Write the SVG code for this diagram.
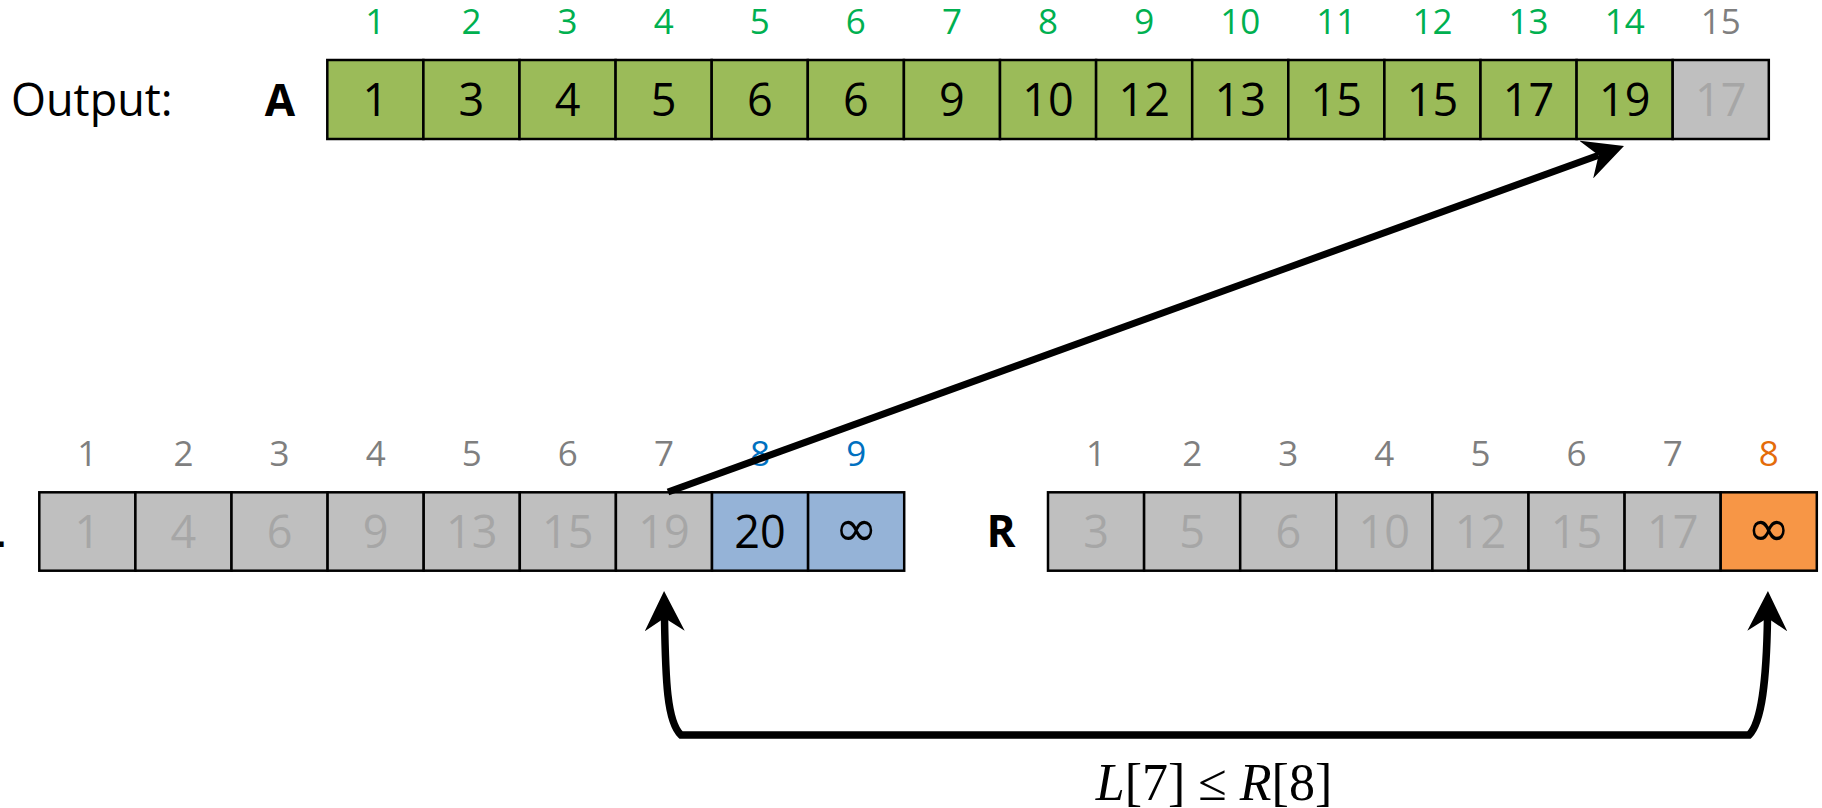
<svg xmlns="http://www.w3.org/2000/svg" width="1822" height="808" viewBox="0 0 1822 808">
<style>
rect{stroke:#000;stroke-width:2.5}
.g{fill:#9BBB59}.gr{fill:#BFBFBF}.b{fill:#95B3D7}.o{fill:#F79646}
text{font-family:"Open Sans","Liberation Sans",sans-serif;text-anchor:middle}
.v{font-size:45px;fill:#000}.f{font-size:45px;fill:#A6A6A6}
.i{font-size:35px}.ig{fill:#00B050}.ix{fill:#7F7F7F}.ib{fill:#0070C0}.io{fill:#E46C0A}
.lb{font-size:44px;font-weight:bold;fill:#000}
.inf{font-family:"DejaVu Sans",sans-serif;font-size:52px;fill:#000}
.con{fill:none;stroke:#000}
</style>
<defs>
<marker id="ah" markerUnits="userSpaceOnUse" viewBox="0 0 40 40" markerWidth="40" markerHeight="40" refX="13" refY="20" orient="auto-start-reverse">
<path d="M0 0L40 20L0 40L13 20Z" fill="#000"/>
</marker>
</defs>
<g id="labels">
<text x="11" y="116" style="text-anchor:start;font-size:45px;fill:#000">Output:</text>
<text x="280" y="116" class="lb">A</text>
<text x="5" y="547" class="lb" style="text-anchor:end">L</text>
<text x="1001" y="547" class="lb">R</text>
</g>
<g id="arrayA">
<g id="A1"><rect class="g" x="327.3" y="60" width="96.1" height="79"/><text class="v" x="375.35" y="116">1</text><text class="i ig" x="375.35" y="34">1</text></g>
<g id="A2"><rect class="g" x="423.4" y="60" width="96.1" height="79"/><text class="v" x="471.45" y="116">3</text><text class="i ig" x="471.45" y="34">2</text></g>
<g id="A3"><rect class="g" x="519.5" y="60" width="96.1" height="79"/><text class="v" x="567.55" y="116">4</text><text class="i ig" x="567.55" y="34">3</text></g>
<g id="A4"><rect class="g" x="615.6" y="60" width="96.1" height="79"/><text class="v" x="663.65" y="116">5</text><text class="i ig" x="663.65" y="34">4</text></g>
<g id="A5"><rect class="g" x="711.7" y="60" width="96.1" height="79"/><text class="v" x="759.75" y="116">6</text><text class="i ig" x="759.75" y="34">5</text></g>
<g id="A6"><rect class="g" x="807.8" y="60" width="96.1" height="79"/><text class="v" x="855.85" y="116">6</text><text class="i ig" x="855.85" y="34">6</text></g>
<g id="A7"><rect class="g" x="903.9" y="60" width="96.1" height="79"/><text class="v" x="951.95" y="116">9</text><text class="i ig" x="951.95" y="34">7</text></g>
<g id="A8"><rect class="g" x="1000" y="60" width="96.1" height="79"/><text class="v" x="1048.05" y="116">10</text><text class="i ig" x="1048.05" y="34">8</text></g>
<g id="A9"><rect class="g" x="1096.1" y="60" width="96.1" height="79"/><text class="v" x="1144.15" y="116">12</text><text class="i ig" x="1144.15" y="34">9</text></g>
<g id="A10"><rect class="g" x="1192.2" y="60" width="96.1" height="79"/><text class="v" x="1240.25" y="116">13</text><text class="i ig" x="1240.25" y="34">10</text></g>
<g id="A11"><rect class="g" x="1288.3" y="60" width="96.1" height="79"/><text class="v" x="1336.35" y="116">15</text><text class="i ig" x="1336.35" y="34">11</text></g>
<g id="A12"><rect class="g" x="1384.4" y="60" width="96.1" height="79"/><text class="v" x="1432.45" y="116">15</text><text class="i ig" x="1432.45" y="34">12</text></g>
<g id="A13"><rect class="g" x="1480.5" y="60" width="96.1" height="79"/><text class="v" x="1528.55" y="116">17</text><text class="i ig" x="1528.55" y="34">13</text></g>
<g id="A14"><rect class="g" x="1576.6" y="60" width="96.1" height="79"/><text class="v" x="1624.65" y="116">19</text><text class="i ig" x="1624.65" y="34">14</text></g>
<g id="A15"><rect class="gr" x="1672.7" y="60" width="96.1" height="79"/><text class="f" x="1720.75" y="116">17</text><text class="i ix" x="1720.75" y="34">15</text></g>
</g>
<g id="arrayL">
<g id="L1"><rect class="gr" x="39.3" y="492.3" width="96.1" height="78.4"/><text class="f" x="87.35" y="548">1</text><text class="i ix" x="87.35" y="466">1</text></g>
<g id="L2"><rect class="gr" x="135.4" y="492.3" width="96.1" height="78.4"/><text class="f" x="183.45" y="548">4</text><text class="i ix" x="183.45" y="466">2</text></g>
<g id="L3"><rect class="gr" x="231.5" y="492.3" width="96.1" height="78.4"/><text class="f" x="279.55" y="548">6</text><text class="i ix" x="279.55" y="466">3</text></g>
<g id="L4"><rect class="gr" x="327.6" y="492.3" width="96.1" height="78.4"/><text class="f" x="375.65" y="548">9</text><text class="i ix" x="375.65" y="466">4</text></g>
<g id="L5"><rect class="gr" x="423.7" y="492.3" width="96.1" height="78.4"/><text class="f" x="471.75" y="548">13</text><text class="i ix" x="471.75" y="466">5</text></g>
<g id="L6"><rect class="gr" x="519.8" y="492.3" width="96.1" height="78.4"/><text class="f" x="567.85" y="548">15</text><text class="i ix" x="567.85" y="466">6</text></g>
<g id="L7"><rect class="gr" x="615.9" y="492.3" width="96.1" height="78.4"/><text class="f" x="663.95" y="548">19</text><text class="i ix" x="663.95" y="466">7</text></g>
<g id="L8"><rect class="b" x="712" y="492.3" width="96.1" height="78.4"/><text class="v" x="760.05" y="548">20</text><text class="i ib" x="760.05" y="466">8</text></g>
<g id="L9"><rect class="b" x="808.1" y="492.3" width="96.1" height="78.4"/><text class="inf" x="856.15" y="546">∞</text><text class="i ib" x="856.15" y="466">9</text></g>
</g>
<g id="arrayR">
<g id="R1"><rect class="gr" x="1048" y="492.3" width="96.1" height="78.4"/><text class="f" x="1096.05" y="548">3</text><text class="i ix" x="1096.05" y="466">1</text></g>
<g id="R2"><rect class="gr" x="1144.1" y="492.3" width="96.1" height="78.4"/><text class="f" x="1192.15" y="548">5</text><text class="i ix" x="1192.15" y="466">2</text></g>
<g id="R3"><rect class="gr" x="1240.2" y="492.3" width="96.1" height="78.4"/><text class="f" x="1288.25" y="548">6</text><text class="i ix" x="1288.25" y="466">3</text></g>
<g id="R4"><rect class="gr" x="1336.3" y="492.3" width="96.1" height="78.4"/><text class="f" x="1384.35" y="548">10</text><text class="i ix" x="1384.35" y="466">4</text></g>
<g id="R5"><rect class="gr" x="1432.4" y="492.3" width="96.1" height="78.4"/><text class="f" x="1480.45" y="548">12</text><text class="i ix" x="1480.45" y="466">5</text></g>
<g id="R6"><rect class="gr" x="1528.5" y="492.3" width="96.1" height="78.4"/><text class="f" x="1576.55" y="548">15</text><text class="i ix" x="1576.55" y="466">6</text></g>
<g id="R7"><rect class="gr" x="1624.6" y="492.3" width="96.1" height="78.4"/><text class="f" x="1672.65" y="548">17</text><text class="i ix" x="1672.65" y="466">7</text></g>
<g id="R8"><rect class="o" x="1720.7" y="492.3" width="96.1" height="78.4"/><text class="inf" x="1768.75" y="546">∞</text><text class="i io" x="1768.75" y="466">8</text></g>
</g>
<g id="connectors">
<path class="con" d="M668 492L1598.6 155.2" stroke-width="7" marker-end="url(#ah)"/>
<path class="con" d="M664.5 618C665.5 680 667 722 681 735L1749 735C1762 722 1766.5 680 1767.5 618" stroke-width="7.5" marker-start="url(#ah)" marker-end="url(#ah)"/>
</g>
<text x="1214" y="800" style="font-family:'Liberation Serif',serif;font-size:52px;fill:#000"><tspan font-style="italic">L</tspan>[7] ≤ <tspan font-style="italic">R</tspan>[8]</text>
</svg>
